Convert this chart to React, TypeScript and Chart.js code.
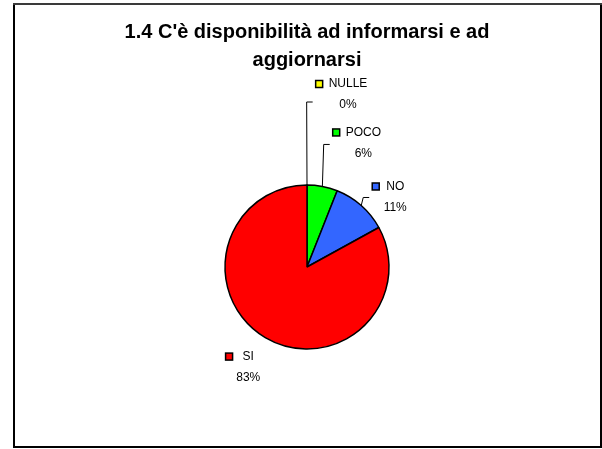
import React, { useEffect, useRef } from "react";
import { Chart, registerables } from "chart.js";

Chart.register(...registerables);

const titleLines = ["1.4 C'è disponibilità ad informarsi e ad", "aggiornarsi"];
const categories = ["NULLE", "POCO", "NO", "SI"];
const values = [0, 6, 11, 83];
const sliceColors = ["#FFFF00", "#00FF00", "#3366FF", "#FF0000"];

// label style: offset of the category-name centre from the slice's outer mid point
const labelOffsets: [number, number][] = [
  [41, -101],
  [41, -54],
  [34, -19],
  [-17, 19],
];
// gap between legend key square and name
const keyGaps = [6, 6, 7, 10];
// leader line elbow: distance below the name line (null = no leader)
const leaderDrops: (number | null)[] = [18, 12, 11, null];

const FONT = '"Liberation Sans", Arial, sans-serif';

const framePlugin = {
  id: "frame",
  beforeDraw(chart: any) {
    const ctx = chart.ctx;
    ctx.save();
    ctx.fillStyle = "#FFFFFF";
    ctx.fillRect(0, 0, chart.width, chart.height);
    ctx.lineWidth = 2;
    ctx.strokeStyle = "#000000";
    ctx.beginPath();
    ctx.moveTo(14, 4);
    ctx.lineTo(14, 447);
    ctx.lineTo(601, 447);
    ctx.lineTo(601, 4);
    ctx.stroke();
    ctx.strokeStyle = "#3a3a3a";
    ctx.beginPath();
    ctx.moveTo(13, 4);
    ctx.lineTo(602, 4);
    ctx.stroke();
    ctx.restore();
  },
};

const labelPlugin = {
  id: "excelLabels",
  afterDatasetsDraw(chart: any) {
    const ctx = chart.ctx;
    const meta = chart.getDatasetMeta(0);
    const data: number[] = chart.data.datasets[0].data;
    const total = data.reduce((a, b) => a + b, 0);
    ctx.save();
    ctx.font = `12px ${FONT}`;
    ctx.textBaseline = "middle";
    meta.data.forEach((arc: any, i: number) => {
      const { x, y, startAngle, endAngle, outerRadius } = arc.getProps(
        ["x", "y", "startAngle", "endAngle", "outerRadius"],
        true
      );
      const mid = (startAngle + endAngle) / 2;
      const ax = x + Math.cos(mid) * outerRadius;
      const ay = y + Math.sin(mid) * outerRadius;
      const [dx, dy] = labelOffsets[i];
      const cx = ax + dx;
      const cy = ay + dy;
      const name = chart.data.labels[i];
      const w = ctx.measureText(name).width;
      const textLeft = cx - w / 2;
      const sq = 7;
      const sqLeft = textLeft - keyGaps[i] - sq;
      // legend key square
      ctx.fillStyle = sliceColors[i];
      ctx.fillRect(sqLeft, cy - sq / 2, sq, sq);
      ctx.lineWidth = 1.5;
      ctx.strokeStyle = "#000";
      ctx.strokeRect(sqLeft, cy - sq / 2, sq, sq);
      // name + percentage
      ctx.fillStyle = "#000";
      ctx.textAlign = "left";
      ctx.fillText(name, textLeft, cy);
      const pct = Math.round((data[i] / total) * 100) + "%";
      ctx.textAlign = "center";
      ctx.fillText(pct, cx, cy + 21);
      // leader line
      const drop = leaderDrops[i];
      if (drop !== null) {
        const ey = cy + drop;
        const stubEnd = sqLeft - 3;
        const elbowX = stubEnd - 6;
        ctx.lineWidth = 1;
        ctx.strokeStyle = "#000";
        ctx.beginPath();
        ctx.moveTo(ax, ay);
        ctx.lineTo(elbowX, ey);
        ctx.lineTo(stubEnd, ey);
        ctx.stroke();
      }
    });
    ctx.restore();
  },
};

export default function App() {
  const canvasRef = useRef<HTMLCanvasElement | null>(null);

  useEffect(() => {
    if (!canvasRef.current) return;
    const chart = new Chart(canvasRef.current, {
      type: "pie",
      data: {
        labels: categories,
        datasets: [
          {
            data: values,
            backgroundColor: sliceColors,
            borderColor: "#000000",
            borderWidth: 1.5,
          },
        ],
      },
      options: {
        responsive: false,
        animation: false,
        radius: 82,
        layout: { padding: { left: 12, right: 0, top: 0, bottom: 100 } },
        plugins: {
          legend: { display: false },
          tooltip: { enabled: false },
          title: {
            display: true,
            text: titleLines,
            color: "#000000",
            font: { family: FONT, size: 20, weight: "bold", lineHeight: "28px" },
            padding: { top: 18, bottom: 111 },
          },
        },
      } as any,
      plugins: [framePlugin, labelPlugin],
    });
    return () => chart.destroy();
  }, []);

  return (
    <div style={{ position: "absolute", left: 0, top: 0, width: 602, height: 449 }}>
      <canvas ref={canvasRef} width={602} height={449} />
    </div>
  );
}
